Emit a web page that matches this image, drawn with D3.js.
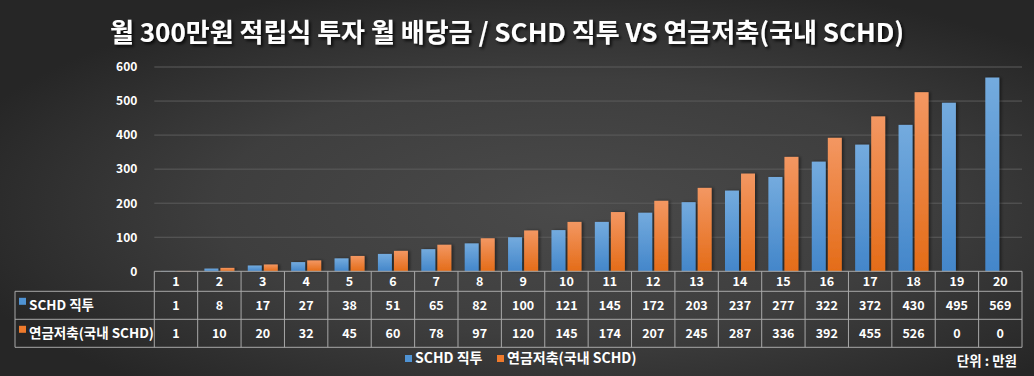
<!DOCTYPE html>
<html>
<head>
<meta charset="utf-8">
<script src="https://cdn.jsdelivr.net/npm/d3@7"></script>
<style>
  html, body { margin: 0; padding: 0; background: #333; }
  svg { display: block; }
  text { font-family: "Noto Sans CJK KR", "Noto Sans", sans-serif; font-weight: bold; fill: #fff; }
</style>
</head>
<body>
<svg id="chart" width="1034" height="376"></svg>
<script>
"use strict";

// chart data
const title      = '월 300만원 적립식 투자 월 배당금 / SCHD 직투 VS 연금저축(국내 SCHD)';
const categories = [ '1','2','3','4','5','6','7','8','9','10','11','12','13','14','15','16','17','18','19','20' ];
const seriesNames = [ 'SCHD 직투', '연금저축(국내 SCHD)' ];
const schdValues    = [ 1, 8, 17, 27, 38, 51, 65, 82, 100, 121, 145, 172, 203, 237, 277, 322, 372, 430, 495, 569 ];
const pensionValues = [ 1, 10, 20, 32, 45, 60, 78, 97, 120, 145, 174, 207, 245, 287, 336, 392, 455, 526, 0, 0 ];
const yTicks     = [ 0, 100, 200, 300, 400, 500, 600 ];
const unitLabel  = '단위 : 만원';

const series = [ schdValues, pensionValues ];

// layout
const W = 1034, H = 376;
const plot = { left: 154.3, right: 1022, top: 67, bottom: 271.3 };
const table = { labelLeft: 15, rowH: [ 20, 28, 28 ] };
const colors = [
  { top: '#74abde', bottom: '#4386ca', key: '#4f93d4' },
  { top: '#f39762', bottom: '#e46c18', key: '#ee7a2c' }
];

const svg = d3.select('#chart');
const defs = svg.append('defs');

// background radial gradient
const bg = defs.append('radialGradient')
  .attr('id', 'bg').attr('cx', '55%').attr('cy', '55%').attr('r', '62%');
bg.append('stop').attr('offset', '0%').attr('stop-color', '#4a4a4a');
bg.append('stop').attr('offset', '55%').attr('stop-color', '#3e3e3e');
bg.append('stop').attr('offset', '100%').attr('stop-color', '#262626');

colors.forEach( (c, i) => {
  const g = defs.append('linearGradient')
    .attr('id', 'bar' + i).attr('x1', 0).attr('x2', 0).attr('y1', 0).attr('y2', 1);
  g.append('stop').attr('offset', '0%').attr('stop-color', c.top);
  g.append('stop').attr('offset', '100%').attr('stop-color', c.bottom);
});

const shadow = defs.append('filter').attr('id', 'shadow')
  .attr('x', '-20%').attr('y', '-20%').attr('width', '160%').attr('height', '140%');
shadow.append('feDropShadow').attr('dx', 2).attr('dy', 0).attr('stdDeviation', 1.5)
  .attr('flood-color', '#000').attr('flood-opacity', 0.45);

const tshadow = defs.append('filter').attr('id', 'tshadow')
  .attr('x', '-5%').attr('y', '-30%').attr('width', '110%').attr('height', '160%');
tshadow.append('feDropShadow').attr('dx', 2).attr('dy', 2).attr('stdDeviation', 1.5)
  .attr('flood-color', '#000').attr('flood-opacity', 0.8);

svg.append('rect').attr('width', W).attr('height', H).attr('fill', 'url(#bg)');

// scales
const x = d3.scaleBand()
  .domain(categories)
  .range([ plot.left, plot.right ])
  .padding(0);

const x1 = d3.scaleBand()
  .domain(d3.range(series.length))
  .range([ x.bandwidth() / 2 - 15, x.bandwidth() / 2 + 15 ])
  .paddingInner(0.13);

const y = d3.scaleLinear()
  .domain([ 0, 600 ])
  .range([ plot.bottom, plot.top ]);

// gridlines
svg.append('g')
  .selectAll('line')
  .data(yTicks.filter( (t) => t > 0 ))
  .join('line')
    .attr('x1', plot.left).attr('x2', plot.right)
    .attr('y1', (d) => y(d)).attr('y2', (d) => y(d))
    .attr('stroke', '#5c5c5c').attr('stroke-width', 1);

// y axis
const yAxis = svg.append('g')
  .attr('transform', 'translate(' + (plot.left - 17) + ',0)')
  .call(d3.axisLeft(y).tickValues(yTicks).tickSize(0).tickPadding(0));
yAxis.select('.domain').remove();
yAxis.selectAll('text')
  .style('font-size', '12px')
  .style('font-family', '"Noto Sans CJK KR", sans-serif')
  .style('font-weight', 'bold')
  .attr('fill', '#f2f2f2');

// bars
const groups = svg.append('g')
  .selectAll('g')
  .data(categories)
  .join('g')
    .attr('transform', (d) => 'translate(' + x(d) + ',0)');

groups.selectAll('rect')
  .data( (d, i) => series.map( (s, k) => ({ k: k, v: s[i] }) ) )
  .join('rect')
    .attr('x', (d) => x1(d.k))
    .attr('width', x1.bandwidth())
    .attr('y', (d) => y(d.v))
    .attr('height', (d) => y(0) - y(d.v))
    .attr('fill', (d) => 'url(#bar' + d.k + ')')
    .attr('filter', 'url(#shadow)');

// data table
const tbl = svg.append('g');
const rowTop = [ plot.bottom, plot.bottom + table.rowH[0], plot.bottom + table.rowH[0] + table.rowH[1] ];
const tblBottom = rowTop[2] + table.rowH[2];
const lineColor = '#a8a8a8';

// horizontal lines
tbl.append('line').attr('x1', plot.left).attr('x2', plot.right)
  .attr('y1', rowTop[0]).attr('y2', rowTop[0]).attr('stroke', lineColor);
[ rowTop[1], rowTop[2], tblBottom ].forEach( (yy) => {
  tbl.append('line').attr('x1', table.labelLeft).attr('x2', plot.right)
    .attr('y1', yy).attr('y2', yy).attr('stroke', lineColor);
});
// vertical lines
tbl.append('line').attr('x1', table.labelLeft).attr('x2', table.labelLeft)
  .attr('y1', rowTop[1]).attr('y2', tblBottom).attr('stroke', lineColor);
tbl.selectAll('.vline')
  .data(categories.concat([ null ]))
  .join('line')
    .attr('class', 'vline')
    .attr('x1', (d) => d === null ? plot.right : x(d))
    .attr('x2', (d) => d === null ? plot.right : x(d))
    .attr('y1', rowTop[0]).attr('y2', tblBottom)
    .attr('stroke', lineColor);

// category header
tbl.selectAll('.cat')
  .data(categories)
  .join('text')
    .attr('class', 'cat')
    .attr('x', (d) => x(d) + x.bandwidth() / 2)
    .attr('y', rowTop[0] + table.rowH[0] / 2 + 4.5)
    .attr('text-anchor', 'middle')
    .style('font-size', '12.5px')
    .text( (d) => d );

// value rows
series.forEach( (s, k) => {
  const cy = rowTop[k + 1] + table.rowH[k + 1] / 2;
  tbl.append('rect')
    .attr('x', 19).attr('y', cy - 7.5).attr('width', 7).attr('height', 7)
    .attr('fill', colors[k].key);
  tbl.append('text')
    .attr('x', 29).attr('y', cy + 5)
    .style('font-size', '13.5px')
    .text(seriesNames[k]);
  tbl.selectAll('.val' + k)
    .data(s)
    .join('text')
      .attr('class', 'val' + k)
      .attr('x', (d, i) => x(categories[i]) + x.bandwidth() / 2)
      .attr('y', cy + 4.5)
      .attr('text-anchor', 'middle')
      .style('font-size', '12.5px')
      .text( (d) => d );
});

// legend
const legend = svg.append('g').attr('transform', 'translate(405,363)');
const legendX = [ 0, 92 ];
seriesNames.forEach( (name, k) => {
  legend.append('rect')
    .attr('x', legendX[k]).attr('y', -8).attr('width', 7).attr('height', 7)
    .attr('fill', colors[k].key);
  legend.append('text')
    .attr('x', legendX[k] + 10).attr('y', 0)
    .style('font-size', '14px')
    .text(name);
});

// unit
svg.append('text')
  .attr('x', 1017).attr('y', 366)
  .attr('text-anchor', 'end')
  .style('font-size', '13.5px')
  .text(unitLabel);

// title
svg.append('text')
  .attr('x', 507).attr('y', 42)
  .attr('text-anchor', 'middle')
  .attr('filter', 'url(#tshadow)')
  .style('font-size', '26px')
  .text(title);
</script>
</body>
</html>
